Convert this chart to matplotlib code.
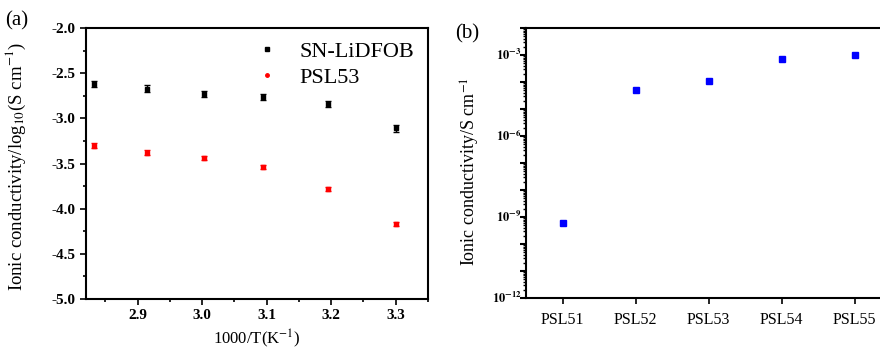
import numpy as np
import matplotlib.pyplot as plt
from matplotlib.lines import Line2D
from matplotlib.ticker import MultipleLocator, LogLocator, NullFormatter

plt.rcParams['font.family'] = ['Liberation Serif', 'DejaVu Serif']
plt.rcParams['mathtext.fontset'] = 'stix'
plt.rcParams['axes.unicode_minus'] = False

# (a) conductivity vs 1000/T
inv_temp = [2.832, 2.914, 3.003, 3.095, 3.195, 3.300]
sn_lidfob = [-2.62, -2.67, -2.73, -2.76, -2.84, -3.11]
sn_err = [0.035, 0.035, 0.035, 0.035, 0.035, 0.035]
psl53 = [-3.30, -3.38, -3.44, -3.54, -3.78, -4.17]
psl53_err = [0.025, 0.025, 0.025, 0.025, 0.025, 0.025]

# (b) conductivity of the series
samples = ['PSL51', 'PSL52', 'PSL53', 'PSL54', 'PSL55']
sigma = [6e-10, 5e-5, 1.1e-4, 7e-4, 1e-3]

fig = plt.figure(figsize=(8.8, 3.52), dpi=100)

# ---- panel (a)
ax1 = fig.add_axes([0.0977, 0.1506, 0.3886, 0.7694])
ax1.errorbar(inv_temp, sn_lidfob, yerr=sn_err, fmt='s', color='black', ms=3,
             capsize=2.2, elinewidth=1, capthick=1)
ax1.errorbar(inv_temp, psl53, yerr=psl53_err, fmt='s', color='red', ms=3,
             capsize=2.2, elinewidth=1, capthick=1)
ax1.set_xlim(2.82, 3.35)
ax1.set_ylim(-5.0, -2.0)
ax1.xaxis.set_minor_locator(MultipleLocator(0.05))
ax1.yaxis.set_minor_locator(MultipleLocator(0.25))
yt = [-5.0, -4.5, -4.0, -3.5, -3.0, -2.5, -2.0]
ax1.set_yticks(yt)
ax1.set_yticklabels(['%.1f' % v for v in yt])
ax1.set_xticks([2.9, 3.0, 3.1, 3.2, 3.3])
ax1.set_xticklabels(['2.9', '3.0', '3.1', '3.2', '3.3'])
ax1.tick_params(which='both', direction='out', width=1.2, labelsize=11)
ax1.tick_params(which='major', length=4)
ax1.tick_params(which='minor', length=2.5)
for lbl in ax1.get_xticklabels() + ax1.get_yticklabels():
    lbl.set_fontweight('bold')
for s in ax1.spines.values():
    s.set_linewidth(1.5)
ax1.set_xlabel('1000/T(K$^{-1}$)', fontsize=12, labelpad=4)
ax1.set_ylabel('Ionic conductivity/log$_{10}$(S cm$^{-1}$)', fontsize=13.5)
ax1.yaxis.set_label_coords(-0.17, 0.49)
handles = [Line2D([], [], ls='none', marker='s', color='black', ms=2.5),
           Line2D([], [], ls='none', marker='o', color='red', ms=2.5)]
ax1.legend(handles, ['SN-LiDFOB', 'PSL53'], loc='upper right', frameon=False,
           fontsize=16, handletextpad=0.9, handlelength=1.2, borderaxespad=0.2,
           labelspacing=0.25)
fig.text(0.006, 0.94, '(a)', fontsize=15, ha='left', va='center')

# ---- panel (b)
ax2 = fig.add_axes([0.598, 0.153, 0.4145, 0.767])
x = np.arange(len(samples))
ax2.plot(x, sigma, 's', color='blue', ms=5)
ax2.set_yscale('log')
ax2.set_ylim(1e-12, 1e-2)
ax2.set_xlim(-0.5, 4.5)
ax2.set_xticks(x)
ax2.set_xticklabels(samples, fontsize=11.5)
ax2.yaxis.set_major_locator(LogLocator(base=10, numticks=20))
ax2.yaxis.set_major_formatter(NullFormatter())
ax2.yaxis.set_minor_locator(LogLocator(base=10, subs=np.arange(2, 10), numticks=40))
ax2.yaxis.set_minor_formatter(NullFormatter())
for v, t in zip([-12, -9, -6, -3], ['-12', '-9', '-6', '-3']):
    ax2.text(-0.012, 10.0 ** v, r'$\mathbf{10^{%s}}$' % t, transform=ax2.get_yaxis_transform(),
             ha='right', va='center', fontsize=9)
ax2.tick_params(axis='y', which='major', length=4, width=1.5)
ax2.tick_params(axis='y', which='minor', length=2.5, width=1)
ax2.tick_params(axis='x', which='major', length=4, width=1.2, pad=6)
for s in ax2.spines.values():
    s.set_linewidth(1.5)
ax2.set_ylabel('Ionic conductivity/S cm$^{-1}$', fontsize=13)
ax2.yaxis.set_label_coords(-0.12, 0.47)
fig.text(0.517, 0.905, '(b)', fontsize=15, ha='left', va='center')

fig.savefig('out.png', dpi=100)
